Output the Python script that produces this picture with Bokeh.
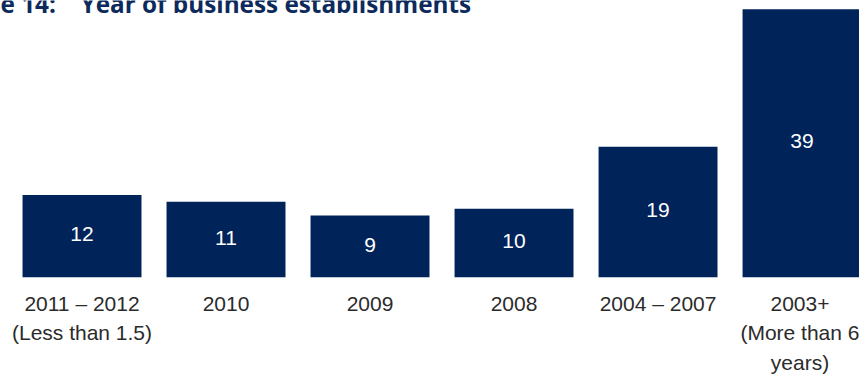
from bokeh.plotting import figure
from bokeh.models import ColumnDataSource, Range1d, FixedTicker
from bokeh.core.properties import value
from bokeh.embed import file_html
from bokeh.resources import INLINE

categories = ["2011 – 2012\n(Less than 1.5)", "2010", "2009", "2008", "2004 – 2007",
              "2003+\n(More than 6\nyears)"]
values = [12, 11, 9, 10, 19, 39]
title_prefix = "e 14:"
title_main = "Year of business establishments"

xs = list(range(len(categories)))
src = ColumnDataSource(dict(x=xs, top=values, mid=[v / 2 for v in values],
                            label=[str(v) for v in values]))

W, H = 859, 378
X0, X1 = -0.566, 5.399
Y1 = 40.26
p = figure(width=W, height=H, output_backend="svg", toolbar_location=None,
           x_range=Range1d(X0, X1), y_range=Range1d(0, Y1),
           min_border_left=0, min_border_right=0, min_border_top=0, min_border_bottom=101)
p.outline_line_color = None
p.xgrid.visible = False
p.ygrid.visible = False
p.yaxis.visible = False
p.background_fill_color = "white"
p.border_fill_color = "white"

bar_color = "#00245a"
p.vbar(x="x", top="top", bottom=0, width=0.826, source=src,
       fill_color=bar_color, line_color=None)
p.text(x="x", y="mid", text="label", source=src, text_align="center",
       text_baseline="middle", text_color="white", text_font_size="21px",
       text_font=value("Liberation Sans"), y_offset=-2)

ax = p.xaxis[0]
ax.ticker = FixedTicker(ticks=xs)
ax.major_label_overrides = {i: c for i, c in zip(xs, categories)}
ax.axis_line_color = None
ax.major_tick_line_color = None
ax.minor_tick_line_color = None
ax.major_tick_in = 0
ax.major_tick_out = 0
ax.minor_tick_in = 0
ax.minor_tick_out = 0
ax.major_label_standoff = 14
ax.major_label_text_font = "Liberation Sans"
ax.major_label_text_font_size = "21px"
ax.major_label_text_color = "#2b2b2b"
ax.major_label_text_line_height = 1.3

title_color = "#0d2a5c"
# title is cropped by the top edge, as in the reference
p.text(x=[X0, X0], y=[Y1, Y1], text=[title_prefix, title_main],
       x_offset=[0, 80], y_offset=3,
       text_font=value("Open Sans"), text_font_style="bold", text_font_size="24.3px",
       text_color=title_color, text_baseline="alphabetic", text_align="left")

open("out.html", "w").write(file_html(p, INLINE))
